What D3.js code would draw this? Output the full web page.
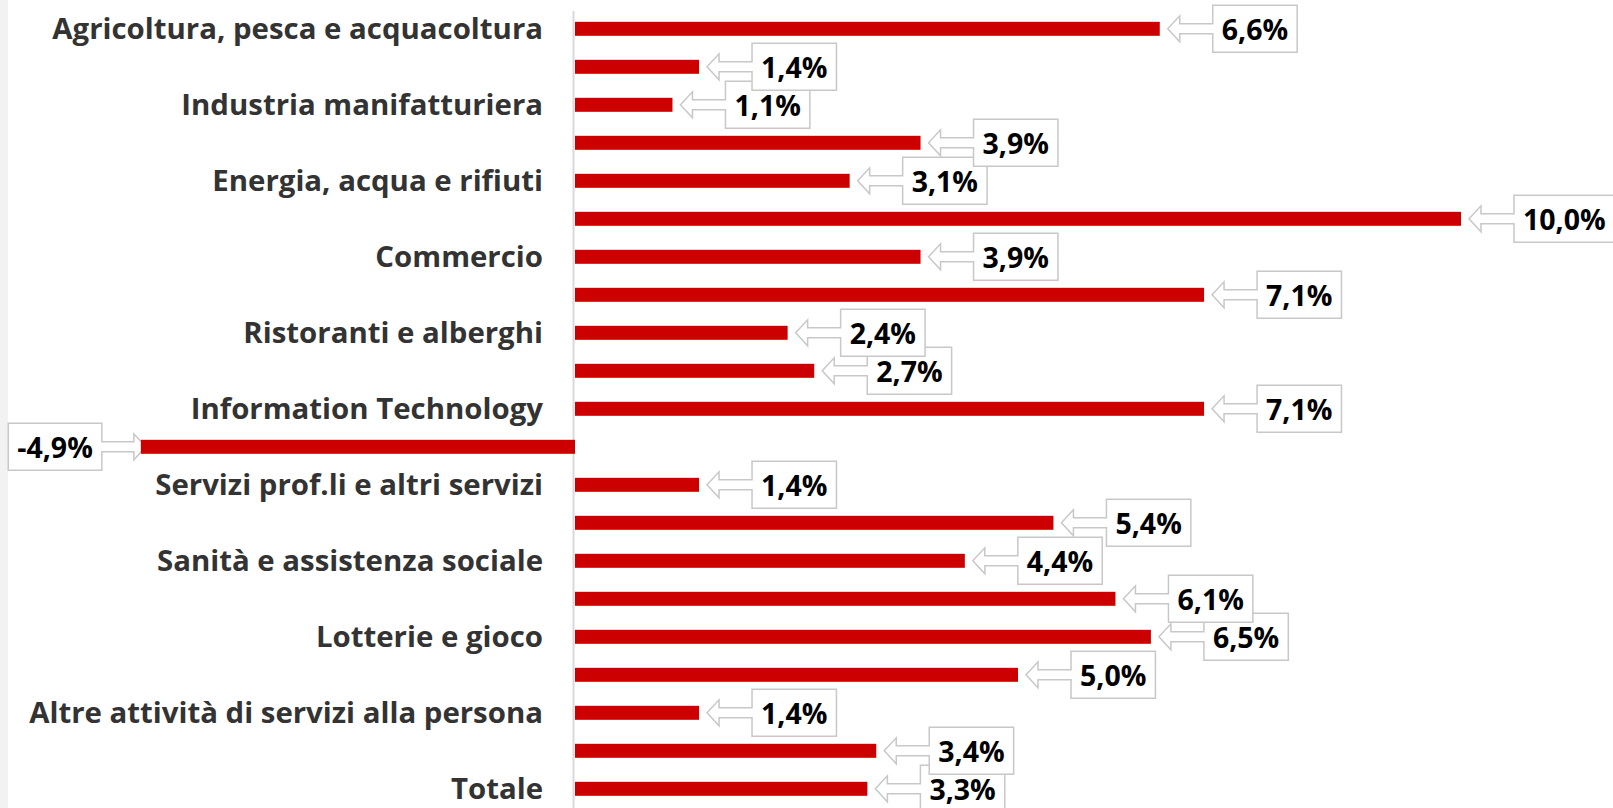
<!DOCTYPE html>
<html>
<head>
<meta charset="utf-8">
<script src="https://cdn.jsdelivr.net/npm/d3@7"></script>
<style>
  html, body { margin: 0; padding: 0; background: #fff; }
  svg { display: block; }
</style>
</head>
<body>
<div id="chart"></div>
<script>
const width = 1613,
    height = 808;

// categories (only every other row carries a visible label)
const categories = [
    "Agricoltura, pesca e acquacoltura", "",
    "Industria manifatturiera", "",
    "Energia, acqua e rifiuti", "",
    "Commercio", "",
    "Ristoranti e alberghi", "",
    "Information Technology", "",
    "Servizi prof.li e altri servizi", "",
    "Sanità e assistenza sociale", "",
    "Lotterie e gioco", "",
    "Altre attività di servizi alla persona", "",
    "Totale"
];

// growth rates, %
const values = [6.6, 1.4, 1.1, 3.9, 3.1, 10.0, 3.9, 7.1, 2.4, 2.7, 7.1, -4.9,
    1.4, 5.4, 4.4, 6.1, 6.5, 5.0, 1.4, 3.4, 3.3];

const fmt = v => d3.format(".1f")(v).replace("−", "-").replace(".", ",") + "%";

const rows = values.map((v, i) => ({ i: i, label: categories[i], value: v }));

const x = d3.scaleLinear()
    .domain([-5, 10])
    .range([132, 1461]);

const y = d3.scalePoint()
    .domain(d3.range(values.length))
    .range([28.8, 788.8]);

const barH = 14;

const svg = d3.select("#chart").append("svg")
    .attr("width", width)
    .attr("height", height);

// light strip on the left edge
svg.append("rect")
    .attr("x", 0).attr("y", 0)
    .attr("width", 8).attr("height", height)
    .attr("fill", "#f2f2f2");

// category labels
svg.append("g").selectAll("text")
    .data(rows.filter(d => d.label))
    .enter().append("text")
    .attr("x", 543)
    .attr("y", d => y(d.i))
    .attr("dy", "0.36em")
    .attr("text-anchor", "end")
    .style("font-family", "'Open Sans', sans-serif")
    .style("font-weight", 700)
    .style("font-size", "29.4px")
    .style("fill", "#333")
    .text(d => d.label);

// zero axis
svg.append("line")
    .attr("x1", x(0) - 1.5).attr("x2", x(0) - 1.5)
    .attr("y1", 11).attr("y2", height)
    .attr("stroke", "#d9d9d9")
    .attr("stroke-width", 2);

// callout labels, drawn bottom-up so upper boxes sit on top
const callouts = svg.append("g")
    .selectAll("g")
    .data(rows.slice().reverse())
    .enter().append("g");

callouts.append("text")
    .style("font-family", "'Open Sans', sans-serif")
    .style("font-weight", 700)
    .style("font-size", "28.5px")
    .style("fill", "#000")
    .attr("text-anchor", "middle")
    .attr("dy", "0.38em")
    .text(d => fmt(d.value));

callouts.each(function(d) {
    const g = d3.select(this);
    const t = g.select("text");
    const tw = t.node().getComputedTextLength();
    const w = tw + 18, hh = 23.5;
    const cy = y(d.i);
    const pos = d.value >= 0;
    const dir = pos ? 1 : -1;
    const tip = x(d.value) + (pos ? 8 : 5);
    const head = tip + dir * 12;
    const boxIn = tip + dir * (pos ? 45 : 44);
    const boxOut = boxIn + dir * w;

    const pts = [
        [tip, cy],
        [head, cy - 13], [head, cy - 5], [boxIn, cy - 5],
        [boxIn, cy - hh], [boxOut, cy - hh], [boxOut, cy + hh], [boxIn, cy + hh],
        [boxIn, cy + 5], [head, cy + 5], [head, cy + 13]
    ];

    g.insert("path", "text")
        .attr("d", d3.line()(pts) + "Z")
        .attr("fill", "#fff")
        .attr("stroke", "#c8c8c8")
        .attr("stroke-width", 1.5);

    t.attr("x", (boxIn + boxOut) / 2)
        .attr("y", cy);
});

// bars
svg.append("g").selectAll("rect")
    .data(rows)
    .enter().append("rect")
    .attr("x", d => x(Math.min(0, d.value)))
    .attr("y", d => y(d.i) - barH / 2)
    .attr("width", d => Math.abs(x(d.value) - x(0)))
    .attr("height", barH)
    .attr("fill", "#cc0000");
</script>
</body>
</html>
